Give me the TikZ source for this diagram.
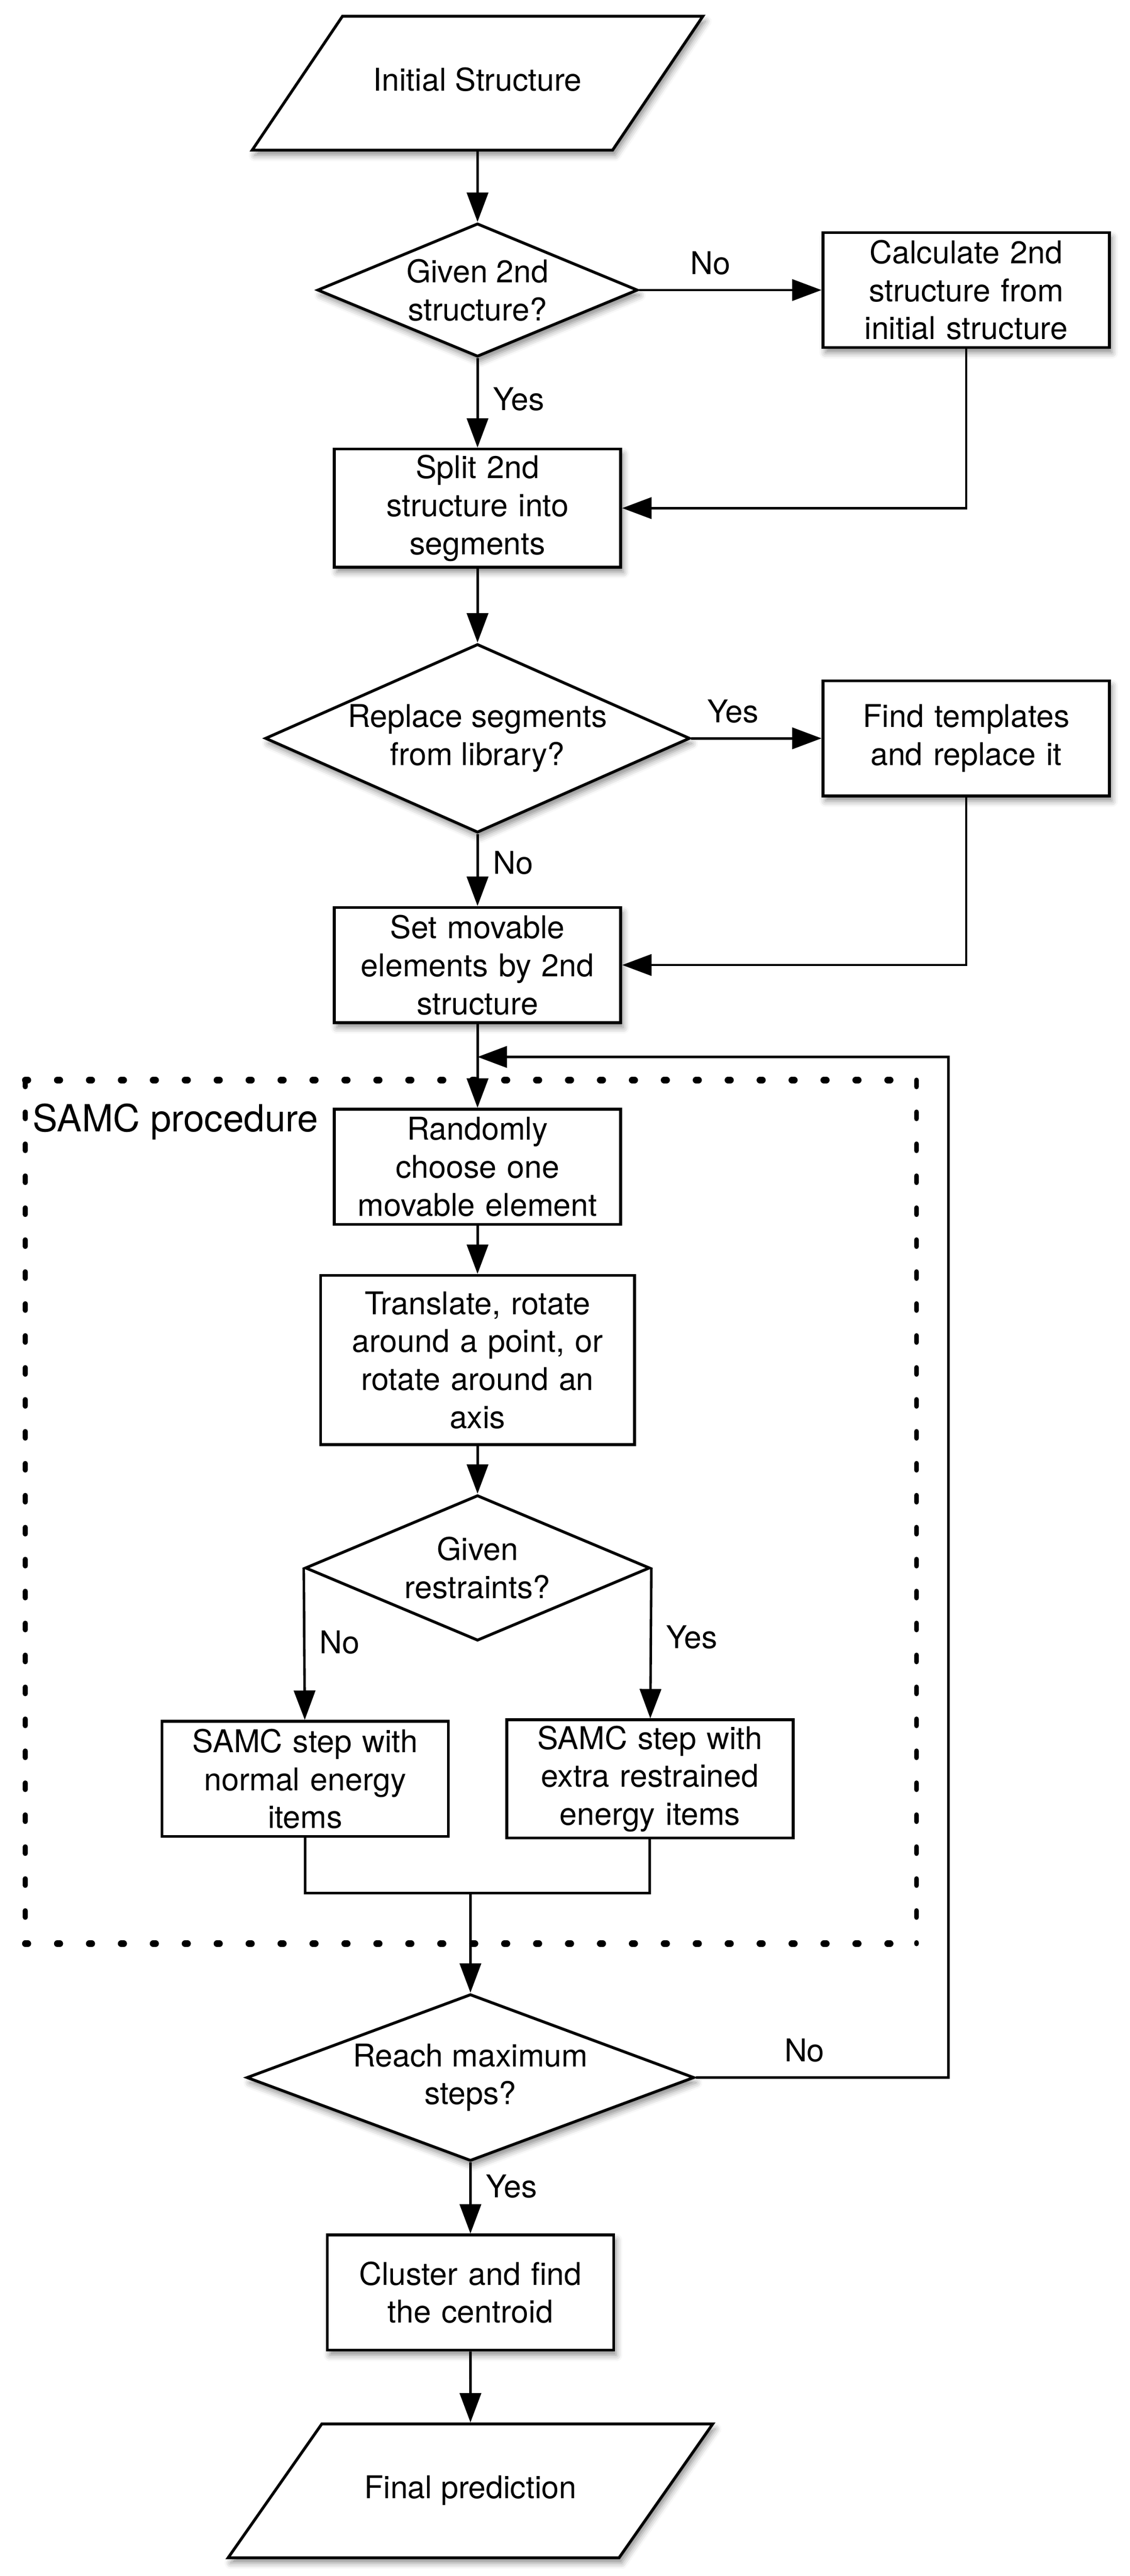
\documentclass[tikz,border=0pt]{standalone}
\usepackage{fontspec}
\setmainfont{TeX Gyre Heros}
\usetikzlibrary{shapes.geometric,arrows.meta,shadows.blur}
\tikzstyle{shadowed} = [blur shadow={shadow xshift=0.05cm, shadow yshift=-0.1cm, shadow blur radius=0.12cm, shadow opacity=45}]
\tikzstyle{io} = [trapezium, trapezium left angle=56, trapezium right angle=124, trapezium stretches body, text height=0.45cm, text depth=0.15cm, inner ysep=1.02cm, minimum width=8.89cm, text centered, draw=black, line width=1.6pt, fill=white, shadowed]
\tikzstyle{process} = [rectangle, minimum width=5.65cm, minimum height=2.27cm, text centered, text width=5.2cm, draw=black, line width=1.6pt, fill=white]
\tikzstyle{decision} = [diamond, inner sep=0pt, align=center, draw=black, line width=1.6pt, fill=white]
\tikzstyle{arrow} = [line width=1.4pt, ->, >={Triangle[length=0.58cm, width=0.42cm]}]
\tikzstyle{link} = [line width=1.4pt]
\tikzstyle{lbl} = [inner sep=0.28cm]
\tikzstyle{dotline} = [line width=0.13cm, line cap=round, dash pattern=on 0.05cm off 0.58cm]
\tikzstyle{dashline} = [line width=0.1cm, line cap=round, dash pattern=on 0.13cm off 0.5cm]

\begin{document}
\begin{tikzpicture}[node distance=4cm, font=\fontsize{17.6}{21.3}\selectfont]
	\useasboundingbox (0,0) rectangle (22.29,-50.8);
	\node (start) [io] at (9.42,-1.64) {Initial Structure};
	\node (given) [decision, shadowed, aspect=2.4, minimum width=6.32cm, minimum height=2.63cm, below of=start, yshift=-0.08cm] {Given 2nd\\structure?};
	\node (calc) [process, shadowed, right of=given, xshift=5.64cm] {Calculate 2nd\\structure from\\initial structure};
	\node (split) [process, shadowed, below of=given, yshift=-0.3cm] {Split 2nd\\structure into\\segments};
	\node (replace) [decision, shadowed, aspect=2.25, minimum width=8.38cm, minimum height=3.72cm, below of=split, yshift=-0.54cm] {Replace segments\\from library?};
	\node (find) [process, shadowed, right of=replace, xshift=5.64cm] {Find templates\\and replace it};
	\node (setmov) [process, shadowed, below of=replace, yshift=-0.47cm] {Set movable\\elements by 2nd\\structure};
	\node (random) [process, below of=setmov, yshift=0.02cm] {Randomly\\choose one\\movable element};
	\node (translate) [process, minimum width=6.19cm, minimum height=3.34cm, text width=5.7cm, below of=random, yshift=0.19cm] {Translate, rotate\\around a point, or\\rotate around an\\axis};
	\node (restr) [decision, aspect=2.37, minimum width=6.8cm, minimum height=2.87cm, below of=translate, yshift=-0.1cm] {Given\\restraints?};
	\node (normal) [process, below of=restr, xshift=-3.4cm, yshift=-0.16cm] {SAMC step with\\normal energy\\items};
	\node (extra) [process, right of=normal, xshift=2.8cm] {SAMC step with\\extra restrained\\energy items};
	\node (reach) [decision, shadowed, aspect=2.68, minimum width=8.83cm, minimum height=3.29cm, below of=restr, xshift=-0.14cm, yshift=-6.05cm] {Reach maximum\\steps?};
	\node (cluster) [process, shadowed, below of=reach, yshift=-0.24cm] {Cluster and find\\the centroid};
	\node (final) [io, trapezium left angle=55, trapezium right angle=125, minimum width=9.56cm, below of=cluster, yshift=0.09cm] {Final prediction};
	% SAMC frame
	\coordinate (samcnw) at (0.5,-21.3);
	\coordinate (samcse) at (18.08,-38.33);
	\draw [dotline] (samcnw) -- (samcnw -| samcse);
	\draw [dotline] (samcnw |- samcse) -- (samcse);
	\draw [dashline] (samcnw) -- (samcnw |- samcse);
	\draw [dashline] (samcnw -| samcse) -- (samcse);
	\node (samclabel) [anchor=base west, inner sep=0pt, font=\fontsize{21}{25}\selectfont] at (0.64,-22.32) {SAMC procedure};
	% helper points
	\coordinate (loopin) at ([yshift=-0.65cm]setmov.south);
	\coordinate (loopright) at ([xshift=4.99cm]reach.east);
	\path (normal.south -| reach.north) ++(0,-1.09) coordinate (merge);
	% connectors
	\draw [arrow] (start) -- (given);
	\draw [arrow] (given) -- node[lbl, anchor=south, pos=0.39] {No} (calc);
	\draw [arrow] (given) -- node[lbl, anchor=west, pos=0.46] {Yes} (split);
	\draw [arrow] (calc.south) |- (split.east);
	\draw [arrow] (split) -- (replace);
	\draw [arrow] (replace) -- node[lbl, anchor=south, pos=0.32] {Yes} (find);
	\draw [arrow] (replace) -- node[lbl, anchor=west, pos=0.4] {No} (setmov);
	\draw [arrow] (find.south) |- (setmov.east);
	\draw [arrow] (setmov) -- (random);
	\draw [arrow] (random) -- (translate);
	\draw [arrow] (translate) -- (restr);
	\draw [arrow] (restr.west) -- node[lbl, anchor=west, pos=0.49] {No} (normal);
	\draw [arrow] (restr.east) -- node[lbl, anchor=west, pos=0.46] {Yes} (extra);
	\draw [link] (normal.south) |- (merge) -| (extra.south);
	\draw [arrow] (merge) -- (reach);
	\draw [arrow] (reach.east) -- node[lbl, anchor=south, pos=0.43] {No} (loopright) |- (loopin);
	\draw [arrow] (reach) -- node[lbl, anchor=west, pos=0.34] {Yes} (cluster);
	\draw [arrow] (cluster) -- (final);
\end{tikzpicture}
\end{document}
